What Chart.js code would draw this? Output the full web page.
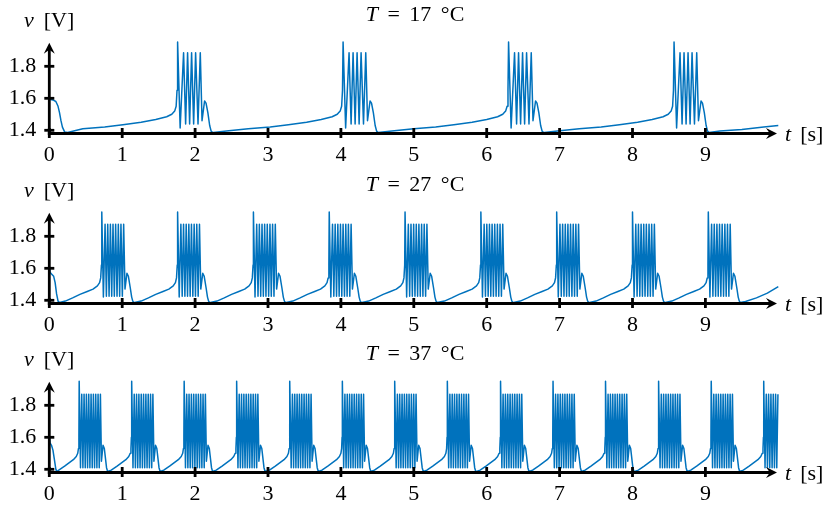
<!DOCTYPE html>
<html><head><meta charset="utf-8">
<script src="https://cdn.jsdelivr.net/npm/chart.js@4.4.1/dist/chart.umd.min.js"></script>
<style>
html,body{margin:0;padding:0;background:#fff;}
body{width:831px;height:509px;position:relative;overflow:hidden;font-family:"Liberation Serif",serif;}
canvas{position:absolute;left:0;}
.lbl{position:absolute;font-size:22px;line-height:1;color:#000;white-space:nowrap;z-index:2;}
.ttl{transform:translateX(-50%);word-spacing:4px;}
</style></head>
<body>
<canvas id="c0" width="831" height="170" style="top:0px"></canvas>
<canvas id="c1" width="831" height="170" style="top:170px"></canvas>
<canvas id="c2" width="831" height="170" style="top:339px"></canvas>

<div class="lbl ttl" style="left:415px;top:3px"><i>T</i> = 17 °C</div>
<div class="lbl ttl" style="left:415px;top:173px"><i>T</i> = 27 °C</div>
<div class="lbl ttl" style="left:415px;top:342px"><i>T</i> = 37 °C</div>
<div class="lbl" style="left:24px;top:9px"><i>v</i><span style="margin-left:10px">[V]</span></div>
<div class="lbl" style="left:24px;top:179px"><i>v</i><span style="margin-left:10px">[V]</span></div>
<div class="lbl" style="left:24px;top:348px"><i>v</i><span style="margin-left:10px">[V]</span></div>
<div class="lbl" style="left:785px;top:123px"><i>t</i><span style="margin-left:9px">[s]</span></div>
<div class="lbl" style="left:785px;top:293px"><i>t</i><span style="margin-left:9px">[s]</span></div>
<div class="lbl" style="left:785px;top:462px"><i>t</i><span style="margin-left:9px">[s]</span></div>

<script>
// ---- axis ticks ----
const xTicks = [0,1,2,3,4,5,6,7,8,9];
const yTicks = [1.4,1.6,1.8];

// ---- T = 17 °C ----
const start17 = [[0,1.594],[0.05,1.59],[0.09,1.58],[0.12,1.55],[0.14,1.51],[0.16,1.46],[0.18,1.42],[0.21,1.39],[0.25,1.386]];
const bursts17 = [1.76, 4.03, 6.30, 8.57];
const shapeDt17 = [-1.78,-1.6,-1.3,-1.0,-0.75,-0.5,-0.3,-0.15,-0.08,-0.04,-0.02,-0.008,0,0.035,0.082,0.11,0.137,0.165,0.192,0.22,0.247,0.28,0.311,0.335,0.37,0.39,0.415,0.44,0.46,0.48];
const shapeV17  = [1.386,1.395,1.41,1.42,1.435,1.45,1.467,1.485,1.50,1.52,1.55,1.65,1.952,1.415,1.885,1.44,1.885,1.44,1.885,1.44,1.885,1.44,1.885,1.46,1.583,1.57,1.51,1.43,1.395,1.386];
const tail17 = [[9.2,1.395],[9.5,1.405],[9.8,1.42],[10.0,1.43]];

// ---- T = 27 °C ----
const start27 = [[0,1.612],[0.01,1.575],[0.03,1.565],[0.06,1.55],[0.08,1.51],[0.10,1.44],[0.12,1.395],[0.14,1.386]];
const bursts27 = [0.72,1.76,2.80,3.84,4.88,5.92,6.96,8.00,9.04];
const shapeDt27 = [-0.59,-0.5,-0.4,-0.3,-0.2,-0.12,-0.06,-0.03,-0.015,-0.005,0,0.022,0.045,0.063,0.0815,0.1,0.118,0.136,0.154,0.172,0.19,0.209,0.227,0.245,0.263,0.282,0.30,0.318,0.345,0.365,0.39,0.41,0.425,0.44];
const shapeV27  = [1.386,1.395,1.415,1.437,1.455,1.47,1.49,1.51,1.54,1.62,1.952,1.42,1.875,1.425,1.875,1.425,1.875,1.425,1.875,1.425,1.875,1.425,1.875,1.425,1.875,1.425,1.875,1.47,1.569,1.55,1.48,1.42,1.395,1.386];
const tail27 = [[9.55,1.392],[9.7,1.415],[9.85,1.445],[10.0,1.485]];

// ---- T = 37 °C ----
const start37 = [[0,1.605],[0.01,1.565],[0.03,1.55],[0.05,1.52],[0.07,1.46],[0.09,1.40],[0.1,1.386]];
const bursts37 = [0.41,1.13,1.85,2.57,3.30,4.02,4.74,5.46,6.19,6.91,7.63,8.36,9.08,9.80];
const shapeDt37 = [-0.33,-0.28,-0.2,-0.14,-0.08,-0.04,-0.02,-0.01,-0.004,0,0.018,0.035,0.051,0.067,0.083,0.099,0.115,0.131,0.147,0.163,0.179,0.195,0.211,0.227,0.243,0.259,0.275,0.291,0.305,0.327,0.345,0.36,0.375,0.39];
const shapeV37  = [1.386,1.395,1.42,1.44,1.46,1.48,1.50,1.53,1.60,1.95,1.41,1.869,1.41,1.869,1.41,1.869,1.41,1.869,1.41,1.869,1.41,1.869,1.41,1.869,1.41,1.869,1.41,1.869,1.45,1.55,1.53,1.47,1.41,1.386];
const tail37 = [];

function buildSeries(start, bursts, dts, vs, tail){
  const pts = []; let last = -Infinity;
  const push = (x, y) => { if (x > last && x <= 10.0001) { pts.push({x, y}); last = x; } };
  start.forEach(p => push(p[0], p[1]));
  bursts.forEach(b => dts.forEach((d, i) => push(+(b + d).toFixed(4), vs[i])));
  tail.forEach(p => push(p[0], p[1]));
  return pts;
}

function arrow(ctx, tx, ty, dx, dy){
  const L = 11, W = 5.5, px = -dy, py = dx;
  ctx.beginPath();
  ctx.moveTo(tx, ty);
  ctx.lineTo(tx - dx*L + px*W, ty - dy*L + py*W);
  ctx.lineTo(tx - dx*L*0.65, ty - dy*L*0.65);
  ctx.lineTo(tx - dx*L - px*W, ty - dy*L - py*W);
  ctx.closePath();
  ctx.fill();
}

const axisPlugin = {
  id: 'arrowAxes',
  afterDraw(chart){
    const {ctx, chartArea: a, scales: {x, y}} = chart;
    const x0 = a.left, y0 = a.bottom;
    const xEnd = x.getPixelForValue(10) - 1.3;
    const yEnd = y.getPixelForValue(1.9475);
    ctx.save();
    ctx.strokeStyle = '#000'; ctx.fillStyle = '#000'; ctx.lineWidth = 2.8; ctx.lineCap = 'butt';
    ctx.beginPath(); ctx.moveTo(x0 - 1.4, y0); ctx.lineTo(xEnd - 6, y0); ctx.stroke();
    ctx.beginPath(); ctx.moveTo(x0, y0 + 1.4); ctx.lineTo(x0, yEnd + 6); ctx.stroke();
    xTicks.forEach(v => { const p = x.getPixelForValue(v); ctx.beginPath(); ctx.moveTo(p, y0 - 5.5); ctx.lineTo(p, y0 + 4.5); ctx.stroke(); });
    yTicks.forEach(v => { const p = y.getPixelForValue(v); ctx.beginPath(); ctx.moveTo(x0 - 5, p); ctx.lineTo(x0 + 5, p); ctx.stroke(); });
    arrow(ctx, xEnd, y0, 1, 0);
    arrow(ctx, x0, yEnd, 0, -1);
    ctx.restore();
  }
};

function makeChart(id, pts){
  return new Chart(document.getElementById(id).getContext('2d'), {
    type: 'line',
    data: { datasets: [{ data: pts, borderColor: '#0072BD', borderWidth: 1.5, pointRadius: 0, tension: 0, fill: false, clip: false, borderJoinStyle: 'round' }] },
    options: {
      responsive: false, animation: false, events: [], devicePixelRatio: 1,
      layout: { padding: { left: 0, right: 52.7, top: 40.7, bottom: 0 } },
      plugins: { legend: { display: false }, tooltip: { enabled: false }, title: { display: false } },
      scales: {
        x: { type: 'linear', min: 0, max: 10,
             grid: { display: false, drawTicks: false }, border: { display: false },
             afterBuildTicks: s => { s.ticks = xTicks.map(v => ({ value: v })); },
             afterFit: s => { s.height = 170 - 133.5; },
             ticks: { color: '#000', font: { family: 'Liberation Serif', size: 22 }, padding: 9, maxRotation: 0, autoSkip: false, callback: v => String(v) } },
        y: { type: 'linear', min: 1.38, max: 1.96,
             grid: { display: false, drawTicks: false }, border: { display: false },
             afterBuildTicks: s => { s.ticks = yTicks.map(v => ({ value: v })); },
             afterFit: s => { s.width = 49.3; },
             ticks: { color: '#000', font: { family: 'Liberation Serif', size: 22 }, padding: 13, callback: v => Number(v).toFixed(1) } }
      }
    },
    plugins: [axisPlugin]
  });
}

makeChart('c0', buildSeries(start17, bursts17, shapeDt17, shapeV17, tail17));
makeChart('c1', buildSeries(start27, bursts27, shapeDt27, shapeV27, tail27));
makeChart('c2', buildSeries(start37, bursts37, shapeDt37, shapeV37, tail37));
</script>
</body></html>
